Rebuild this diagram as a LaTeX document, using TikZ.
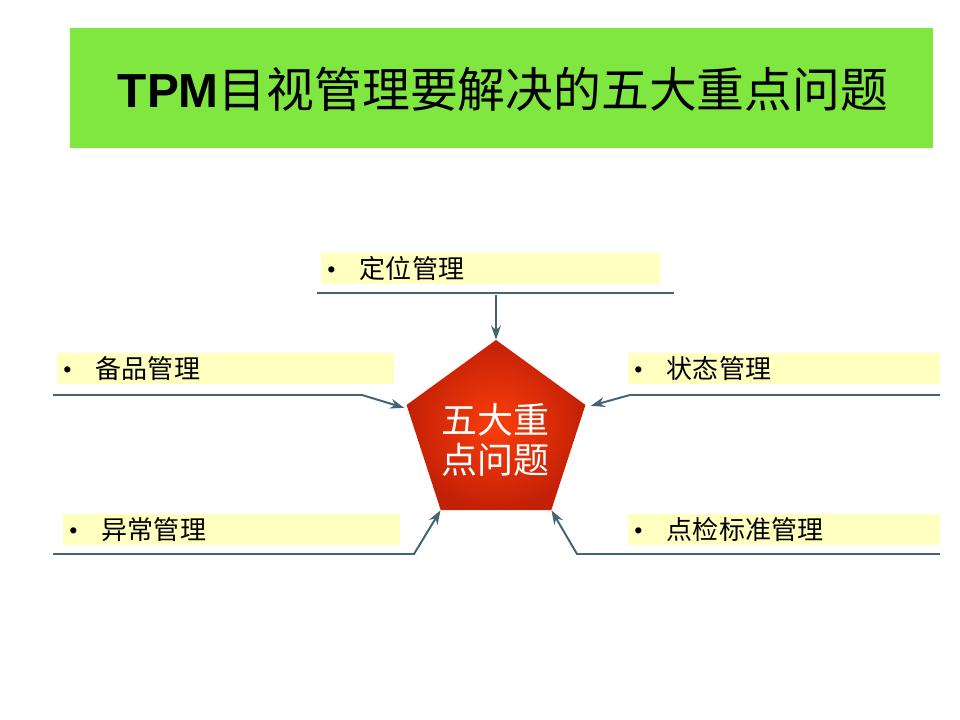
\documentclass[tikz,border=0pt]{standalone}
\usepackage{fontspec}
\usepackage{tikz}
\usetikzlibrary{shapes.geometric, arrows.meta}

\setmainfont{Liberation Serif}
\newfontfamily\cjk{Noto Sans CJK SC}
\newfontfamily\latin{Liberation Sans}

\definecolor{titlegreen}{RGB}{128,230,64}
\definecolor{itemyellow}{RGB}{255,255,192}
\definecolor{linkgray}{RGB}{66,100,118}
\definecolor{corered}{RGB}{250,62,12}
\definecolor{coredark}{RGB}{196,32,6}

\tikzset{
    itembox/.style={fill=itemyellow, minimum height=0.775cm, inner xsep=0.15cm,
        inner ysep=0pt, align=left, font=\fontsize{18.5}{22}\selectfont},
    link/.style={draw=linkgray, line width=1.4pt},
    linkarrow/.style={link, -{Stealth[length=10pt, width=7pt]}}
}

\newcommand{\itemtext}[1]{\makebox[0.825cm][l]{\textbullet}{\cjk #1}}

\begin{document}
\begin{tikzpicture}[x=0.025cm, y=-0.025cm]

    % Marco
    \useasboundingbox (0,0) rectangle (960,720);

    % Titulo
    \fill[titlegreen] (70,28) rectangle (933,148);
    \node (title) at (503,89) {\fontsize{34}{38}\selectfont{\latin\bfseries TPM}{\cjk 目视管理要解决的五大重点问题}};

    % Pentagono central
    \node[regular polygon, regular polygon sides=5, minimum size=4.7cm, inner sep=0pt,
          inner color=corered, outer color=coredark] (core) at (496,434) {};
    \node[text=white, align=center, font=\fontsize{25.6}{28.5}\selectfont\cjk] (coretext) at (495,440) {五大重\\点问题};

    % Cajas de texto
    \node[itembox, text width=8.175cm] (pos) at (490.5,268.5) {\itemtext{定位管理}};
    \node[itembox, text width=8.125cm] (spare) at (225.5,368.5) {\itemtext{备品管理}};
    \node[itembox, text width=7.5cm] (state) at (784,368.5) {\itemtext{状态管理}};
    \node[itembox, text width=8.125cm] (abn) at (231.5,529.5) {\itemtext{异常管理}};
    \node[itembox, text width=7.5cm] (check) at (784,529.5) {\itemtext{点检标准管理}};

    % Puntos de las lineas
    \coordinate (posl) at (317,293);
    \coordinate (posr) at (674,293);
    \coordinate (posm) at (496,295);
    \coordinate (sparel) at (53,395);
    \coordinate (spareb) at (362,395);
    \coordinate (stater) at (940,395);
    \coordinate (stateb) at (630,395);
    \coordinate (abnl) at (53,554);
    \coordinate (abnb) at (414,554);
    \coordinate (checkr) at (940,554);
    \coordinate (checkb) at (577,554);

    % Conectores
    \draw[link] (posl) -- (posr);
    \draw[linkarrow] (posm) -- (core.corner 1);
    \draw[linkarrow] (sparel) -- (spareb) -- ([shift={(-2,3)}]core.corner 2);
    \draw[linkarrow] (stater) -- (stateb) -- ([shift={(5,1)}]core.corner 5);
    \draw[linkarrow] (abnl) -- (abnb) -- (core.corner 3);
    \draw[linkarrow] (checkr) -- (checkb) -- (core.corner 4);

\end{tikzpicture}
\end{document}
